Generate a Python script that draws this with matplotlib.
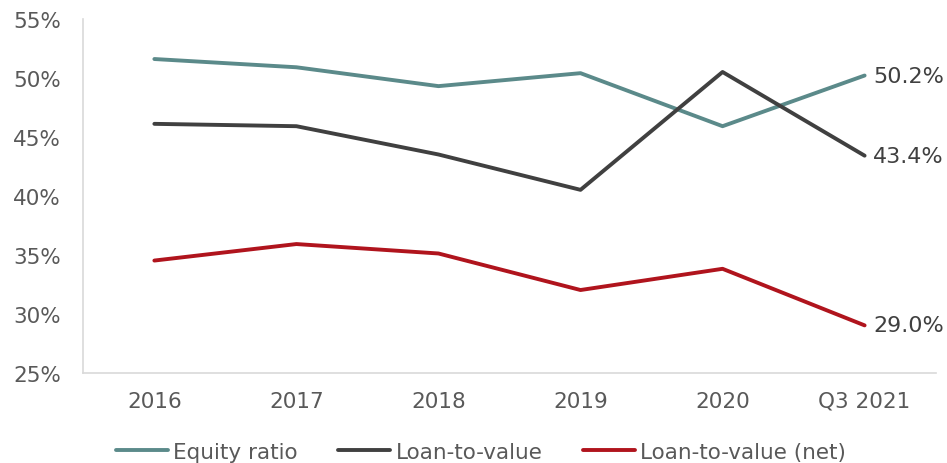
import matplotlib.pyplot as plt
from matplotlib.ticker import FuncFormatter

# key ratios per period (%)
periods = ["2016", "2017", "2018", "2019", "2020", "Q3 2021"]
equity_ratio = [51.6, 50.9, 49.3, 50.4, 45.9, 50.2]
loan_to_value = [46.1, 45.9, 43.5, 40.5, 50.5, 43.4]
loan_to_value_net = [34.5, 35.9, 35.1, 32.0, 33.8, 29.0]

series = [
    ("Equity ratio", equity_ratio, "#5B8A8A"),
    ("Loan-to-value", loan_to_value, "#404040"),
    ("Loan-to-value (net)", loan_to_value_net, "#B0141D"),
]

plt.rcParams["font.family"] = ["DejaVu Sans"]
text_color = "#595959"

fig, ax = plt.subplots(figsize=(9.47, 4.64), dpi=100)
fig.subplots_adjust(left=0.088, right=0.988, top=0.957, bottom=0.195)

x = range(len(periods))
for name, vals, color in series:
    ax.plot(x, vals, color=color, linewidth=2.8, label=name, solid_capstyle="round")
    ax.annotate(f"{vals[-1]:.1f}%", (x[-1], vals[-1]), xytext=(6, 0),
                textcoords="offset points", va="center", ha="left",
                fontsize=16, color="#404040")

ax.set_xlim(-0.5, len(periods) - 0.5)
ax.set_ylim(25, 55)
ax.set_yticks(range(25, 56, 5))
ax.yaxis.set_major_formatter(FuncFormatter(lambda v, _: f"{v:.0f}%"))
ax.set_xticks(list(x))
ax.set_xticklabels(periods)
ax.tick_params(axis="both", length=0, labelsize=15.5, colors=text_color)
ax.tick_params(axis="x", pad=13)
ax.tick_params(axis="y", pad=16)

for side in ["top", "right"]:
    ax.spines[side].set_visible(False)
for side in ["left", "bottom"]:
    ax.spines[side].set_color("#D9D9D9")
    ax.spines[side].set_linewidth(1.2)

leg = fig.legend(*ax.get_legend_handles_labels(), loc="center",
                 bbox_to_anchor=(0.508, 0.024), ncol=3, frameon=False,
                 fontsize=15.5, handlelength=2.4, columnspacing=1.9,
                 handletextpad=0.25)
for t in leg.get_texts():
    t.set_color(text_color)

fig.savefig("out.png", dpi=100)
